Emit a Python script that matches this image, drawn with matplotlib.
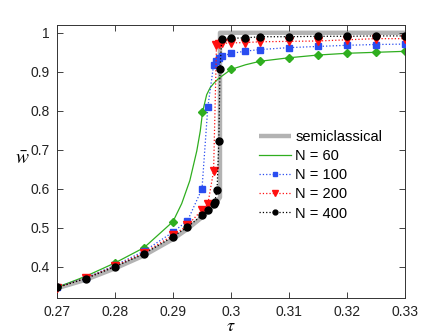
import matplotlib
matplotlib.use("Agg")
import matplotlib.pyplot as plt

plt.rcParams['font.family'] = ['Liberation Sans', 'DejaVu Sans']
plt.rcParams['mathtext.fontset'] = 'stix'

# semiclassical curve
tau_sc = [0.27, 0.275, 0.28, 0.285, 0.29, 0.2925, 0.295, 0.296, 0.297, 0.2975, 0.2981, 0.2981, 0.33]
w_sc = [0.345, 0.367, 0.396, 0.429, 0.471, 0.497, 0.527, 0.541, 0.556, 0.566, 0.578, 1.0, 1.0]

# N = 60 smooth line and its markers
tau_60_line = [0.27, 0.275, 0.28, 0.285, 0.29, 0.2915, 0.2929, 0.2941, 0.2947, 0.2951, 0.2958,
               0.2964, 0.297, 0.2978, 0.2987, 0.30, 0.3025, 0.305, 0.31, 0.315, 0.32, 0.325, 0.33]
w_60_line = [0.347, 0.376, 0.41, 0.449, 0.516, 0.562, 0.621, 0.697, 0.748, 0.797, 0.841,
             0.859, 0.870, 0.882, 0.892, 0.906, 0.918, 0.927, 0.936, 0.943, 0.9475, 0.95, 0.9525]
tau_60 = [0.27, 0.28, 0.285, 0.29, 0.295, 0.30, 0.305, 0.31, 0.315, 0.32, 0.325, 0.33]
w_60 = [0.347, 0.41, 0.449, 0.516, 0.797, 0.906, 0.927, 0.936, 0.943, 0.9475, 0.95, 0.9525]

# N = 100
tau_100 = [0.27, 0.275, 0.28, 0.285, 0.29, 0.2925, 0.295, 0.296, 0.297, 0.2975, 0.298, 0.2985,
           0.30, 0.3025, 0.305, 0.31, 0.315, 0.32, 0.325, 0.33]
w_100 = [0.347, 0.372, 0.404, 0.44, 0.489, 0.518, 0.60, 0.809, 0.917, 0.928, 0.935, 0.94,
         0.947, 0.953, 0.957, 0.962, 0.965, 0.968, 0.97, 0.971]

# N = 200
tau_200 = [0.27, 0.275, 0.28, 0.285, 0.29, 0.2925, 0.295, 0.296, 0.297, 0.2975, 0.298, 0.2985,
           0.30, 0.3025, 0.305, 0.31, 0.315, 0.32, 0.325, 0.33]
w_200 = [0.346, 0.371, 0.402, 0.436, 0.481, 0.506, 0.546, 0.56, 0.646, 0.970, 0.972, 0.973,
         0.974, 0.975, 0.977, 0.978, 0.979, 0.982, 0.985, 0.985]

# N = 400
tau_400 = [0.27, 0.275, 0.28, 0.285, 0.29, 0.2925, 0.295, 0.296, 0.297, 0.2972, 0.2976, 0.2979,
           0.2981, 0.2984, 0.30, 0.3025, 0.305, 0.31, 0.315, 0.32, 0.325, 0.33]
w_400 = [0.347, 0.370, 0.400, 0.433, 0.477, 0.502, 0.532, 0.545, 0.560, 0.566, 0.598, 0.722,
         0.906, 0.985, 0.986, 0.987, 0.990, 0.990, 0.991, 0.991, 0.992, 0.992]

xticks = [0.27, 0.28, 0.29, 0.30, 0.31, 0.32, 0.33]
xticklabels = ['0.27', '0.28', '0.29', '0.3', '0.31', '0.32', '0.33']
yticks = [0.4, 0.5, 0.6, 0.7, 0.8, 0.9, 1.0]
yticklabels = ['0.4', '0.5', '0.6', '0.7', '0.8', '0.9', '1']

fig = plt.figure(figsize=(4.47, 3.36), dpi=100)
ax = fig.add_axes([57/447, 1-298/336, 348/447, 273/336])

ax.plot(tau_sc, w_sc, color='#b3b3b3', lw=3.2, label='semiclassical', zorder=1,
        solid_capstyle='butt')
green = '#2fae1f'
ax.plot(tau_60_line, w_60_line, color=green, lw=0.9, label='N = 60', zorder=2)
ax.plot(tau_60, w_60, ls='none', marker='D', ms=4, color=green, zorder=2)
ax.plot(tau_100, w_100, ls=':', lw=0.9, color='#2a4df0', marker='s', ms=4.2,
        label='N = 100', zorder=3)
ax.plot(tau_200, w_200, ls=':', lw=0.9, color='#ff1010', marker='v', ms=5.2,
        label='N = 200', zorder=4)
ax.plot(tau_400, w_400, ls=':', lw=0.9, color='black', marker='o', ms=5,
        label='N = 400', zorder=5)

ax.set_xlim(0.27, 0.33)
ax.set_ylim(0.32, 1.02)
ax.set_xticks(xticks)
ax.set_xticklabels(xticklabels)
ax.set_yticks(yticks)
ax.set_yticklabels(yticklabels)
ax.tick_params(direction='in', top=True, right=True, length=4, width=0.6,
               labelsize=10, colors='#222222', pad=5)
for s in ax.spines.values():
    s.set_linewidth(0.7)
    s.set_color('#333333')

ax.set_xlabel(r'$\tau$', fontsize=13, labelpad=-1)
ax.set_ylabel(r'$\bar{w}$', fontsize=14, rotation=0, labelpad=0)
ax.yaxis.set_label_coords(-0.1, 0.475)

leg = ax.legend(loc='upper left', bbox_to_anchor=(0.58, 0.615), frameon=False,
                fontsize=10.5, handlelength=2.2, handletextpad=0.3, labelspacing=0.35,
                borderpad=0, borderaxespad=0, numpoints=1, markerscale=0.7)

fig.savefig('out.png', dpi=100)
